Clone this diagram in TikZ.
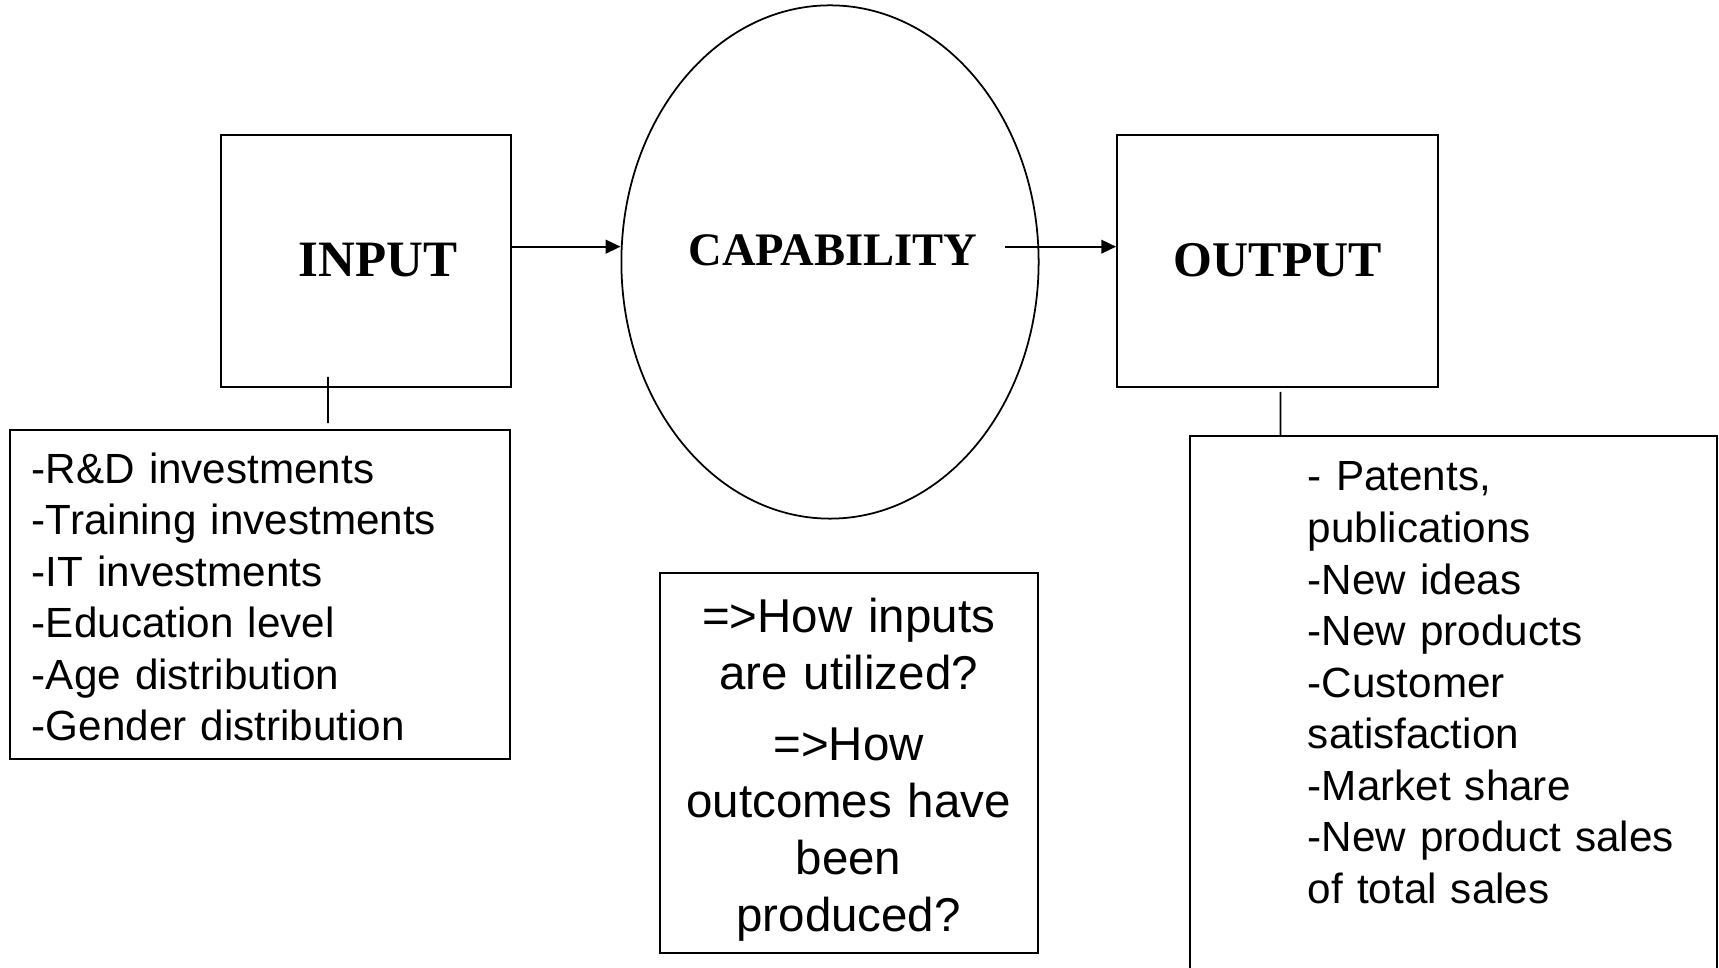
\documentclass[tikz,border=0pt]{standalone}
\usepackage{fontspec}
\setmainfont{Liberation Serif}
\setsansfont{Liberation Sans}
\usetikzlibrary{arrows.meta,shapes,calc}

\begin{document}
\begin{tikzpicture}[x=0.01cm,y=-0.01cm,>={Triangle[length=4.2pt,width=3.9pt]},line width=0.5pt]
    \tikzstyle{box}=[draw,rectangle,inner sep=0pt]
    \tikzstyle{blob}=[draw,ellipse,inner sep=0pt,minimum width=4.17cm,minimum height=5.13cm]
    \tikzstyle{title}=[inner sep=0pt,font=\rmfamily\bfseries\fontsize{14.2}{17}\selectfont]
    \tikzstyle{items}=[inner sep=0pt,anchor=base west,text width=5cm,align=left,font=\sffamily\fontsize{12}{14.65}\selectfont]
    \useasboundingbox (0,0) rectangle (1719,968);
    \clip (0,0) rectangle (1719,968);
    \node[box,minimum width=2.9cm,minimum height=2.52cm](inbox) at (366,261){};
    \node[title,font=\rmfamily\bfseries\fontsize{14.5}{17}\selectfont](intitle) at (377.7,259.8){INPUT};
    \node[blob](cap) at (830,262){};
    \node[title,font=\rmfamily\bfseries\fontsize{13.25}{16}\selectfont](captitle) at (833,250){CAPABILITY};
    \node[box,minimum width=3.21cm,minimum height=2.52cm](outbox) at (1277.5,261){};
    \node[title](outtitle) at (1278,260){OUTPUT};
    \node[box,minimum width=5cm,minimum height=3.29cm](inlist) at (260,594.5){};
    \node[items](intext) at (31,483.3){-R\&D investments\\-Training investments\\-IT investments\\-Education level\\-Age distribution\\-Gender distribution};
    \node[box,minimum width=3.78cm,minimum height=3.8cm](qbox) at (849,763){};
    \node[items,anchor=base,text width=3.6cm,align=center,font=\sffamily\fontsize{13.5}{16.2}\selectfont](qtext) at (848.6,633){=>How inputs\\are utilized?\\[3.75pt]=>How\\outcomes have\\been\\produced?};
    \node[box,minimum width=5.27cm,minimum height=6.64cm](outlist) at (1453.5,768){};
    \node[items,text width=4.5cm](outtext) at (1307,491){- Patents,\\publications\\-New ideas\\-New products\\-Customer\\satisfaction\\-Market share\\-New product sales\\of total sales};
    \coordinate (capout) at (1005,246.7);
    \draw[->] ([yshift=0.143cm]inbox.east) -- ([yshift=0.153cm]cap.west);
    \draw[->] (capout) -- (capout -| outbox.west);
    \draw ([xshift=-0.38cm,yshift=0.11cm]inbox.south) -- ([xshift=0.68cm,yshift=0.06cm]inlist.north);
    \draw ([xshift=0.03cm,yshift=-0.04cm]outbox.south) -- ([xshift=-1.73cm]outlist.north);
\end{tikzpicture}
\end{document}
